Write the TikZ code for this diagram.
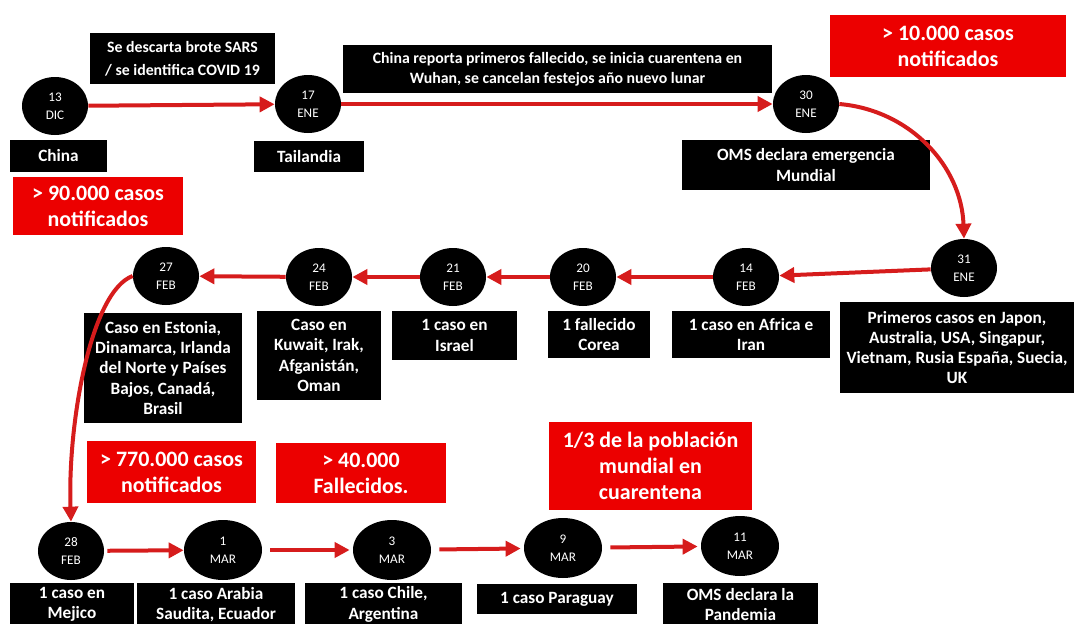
\documentclass[tikz,border=0pt]{standalone}
\usepackage{fontspec}
\setmainfont{Carlito}
\usetikzlibrary{shapes.geometric, arrows.meta}
\definecolor{rojo}{RGB}{236,0,0}
\definecolor{rojoflecha}{RGB}{214,28,28}

\begin{document}
\begin{tikzpicture}[x=0.2mm, y=0.2mm,
    fecha/.style={ellipse, fill=black, text=white, minimum width=13.2mm, minimum height=11.6mm,
        inner sep=0pt, align=center, font=\fontsize{7.5}{10.2}\selectfont},
    evento/.style={fill=black, text=white, inner sep=0pt, align=center,
        font=\bfseries\fontsize{9.8}{11.5}\selectfont},
    alerta/.style={fill=rojo, text=white, inner sep=0pt, align=center,
        font=\bfseries\fontsize{12.5}{14.8}\selectfont},
    flecha/.style={rojoflecha, line width=0.8mm, -{Triangle[length=3mm, width=3mm]}}]

    \useasboundingbox (0,0) rectangle (1076,-624);

    % Fechas (circulos)
    \foreach \nombre/\x/\y/\dia/\mes in {dic13/55/106/13/DIC, ene17/308/104/17/ENE,
        ene30/806/104/30/ENE, ene31/964/268/31/ENE, feb14/746/277/14/FEB,
        feb20/583/277/20/FEB, feb21/453/277/21/FEB, feb24/319/277/24/FEB,
        feb27/166/276/27/FEB, feb28/71/551/28/FEB}
        \node[fecha] (\nombre) at (\x,-\y) {\dia\\\mes};
    \foreach \nombre/\x/\y/\dia in {mar1/223/550/1, mar3/392/550/3, mar9/563/548/9, mar11/740/546/11}
        \node[fecha, minimum width=15.6mm, minimum height=12mm] (\nombre) at (\x,-\y) {\dia\\MAR};

    % Eventos (cajas negras)
    \node[evento, minimum width=19.4mm, minimum height=6.4mm] (china) at (58.5,-156) {China};
    \node[evento, minimum width=22mm, minimum height=6.2mm] (tailandia) at (309,-156.5) {Tailandia};
    \node[evento, minimum width=37mm, minimum height=10.2mm, font=\bfseries\fontsize{9}{13}\selectfont]
        (sars) at (182.5,-58.5) {Se descarta brote SARS\\/ se identifica  COVID 19};
    \node[evento, minimum width=85.8mm, minimum height=9.6mm, font=\bfseries\fontsize{9}{11.4}\selectfont]
        (wuhan) at (557.5,-69) {China reporta primeros fallecido,  se inicia cuarentena en\\Wuhan, se cancelan festejos año nuevo lunar};
    \node[evento, minimum width=49.6mm, minimum height=10mm] (emergencia) at (806,-165)
        {OMS declara emergencia\\Mundial};
    \node[evento, minimum width=46.8mm, minimum height=18.2mm] (primeros) at (957,-347.5)
        {Primeros casos en Japon,\\Australia, USA, Singapur,\\Vietnam, Rusia España, Suecia,\\UK};
    \node[evento, minimum width=31.6mm, minimum height=9.4mm] (africa) at (751,-334.5) {1 caso en Africa e\\Iran};
    \node[evento, minimum width=20.4mm, minimum height=9.4mm] (corea) at (599,-334.5) {1 fallecido\\Corea};
    \node[evento, minimum width=25mm, minimum height=9.8mm] (israel) at (454.5,-335.5) {1 caso en\\Israel};
    \node[evento, minimum width=24.8mm, minimum height=17.8mm] (kuwait) at (319,-355.5)
        {Caso en\\Kuwait, Irak,\\Afganistán,\\Oman};
    \node[evento, minimum width=31.6mm, minimum height=22mm] (estonia) at (163,-368)
        {Caso en Estonia,\\Dinamarca, Irlanda\\del Norte y Países\\Bajos, Canadá,\\Brasil};
    \node[evento, minimum width=24.8mm, minimum height=8.6mm] (mejico) at (72,-604.5) {1 caso en\\Mejico};
    \node[evento, minimum width=31.6mm, minimum height=8.6mm] (arabia) at (216,-604.5) {1 caso Arabia\\Saudita, Ecuador};
    \node[evento, minimum width=31.4mm, minimum height=8.6mm] (chile) at (383.5,-604.5) {1 caso Chile,\\Argentina};
    \node[evento, minimum width=32mm, minimum height=6mm] (paraguay) at (557,-599) {1 caso Paraguay};
    \node[evento, minimum width=31mm, minimum height=8.6mm] (pandemia) at (740.5,-604.5) {OMS declara la\\Pandemia};

    % Cifras (cajas rojas)
    \node[alerta, minimum width=47.2mm, minimum height=12.4mm] (casos10k) at (948,-46) {> 10.000 casos\\notificados};
    \node[alerta, minimum width=34mm, minimum height=11.6mm] (casos90k) at (98,-206) {> 90.000 casos\\notificados};
    \node[alerta, minimum width=33.8mm, minimum height=12.4mm] (casos770k) at (171.5,-472) {> 770.000 casos\\notificados};
    \node[alerta, minimum width=34mm, minimum height=12mm] (muertos40k) at (361,-473) {> 40.000\\Fallecidos.};
    \node[alerta, minimum width=40.6mm, minimum height=17.6mm] (cuarentena) at (650.5,-466)
        {1/3 de la población\\mundial en\\cuarentena};

    % Flechas
    \draw[flecha] (dic13) -- (ene17);
    \draw[flecha] (ene17) -- (ene30);
    \draw[flecha] (ene30.east) to[out=-5, in=92] (ene31.north);
    \draw[flecha] (ene31) -- (feb14);
    \draw[flecha] (feb14) -- (feb20);
    \draw[flecha] (feb20) -- (feb21);
    \draw[flecha] (feb21) -- (feb24);
    \draw[flecha] (feb24) -- (feb27);
    \draw[flecha] (feb27.west) to[out=200, in=92, out looseness=0.45] (feb28.north);
    \draw[flecha, shorten <=0.6mm] (feb28) -- (mar1);
    \foreach \a/\b in {mar1/mar3, mar3/mar9, mar9/mar11}
        \draw[flecha, shorten <=1.6mm, shorten >=0.6mm] (\a) -- (\b);

\end{tikzpicture}
\end{document}
